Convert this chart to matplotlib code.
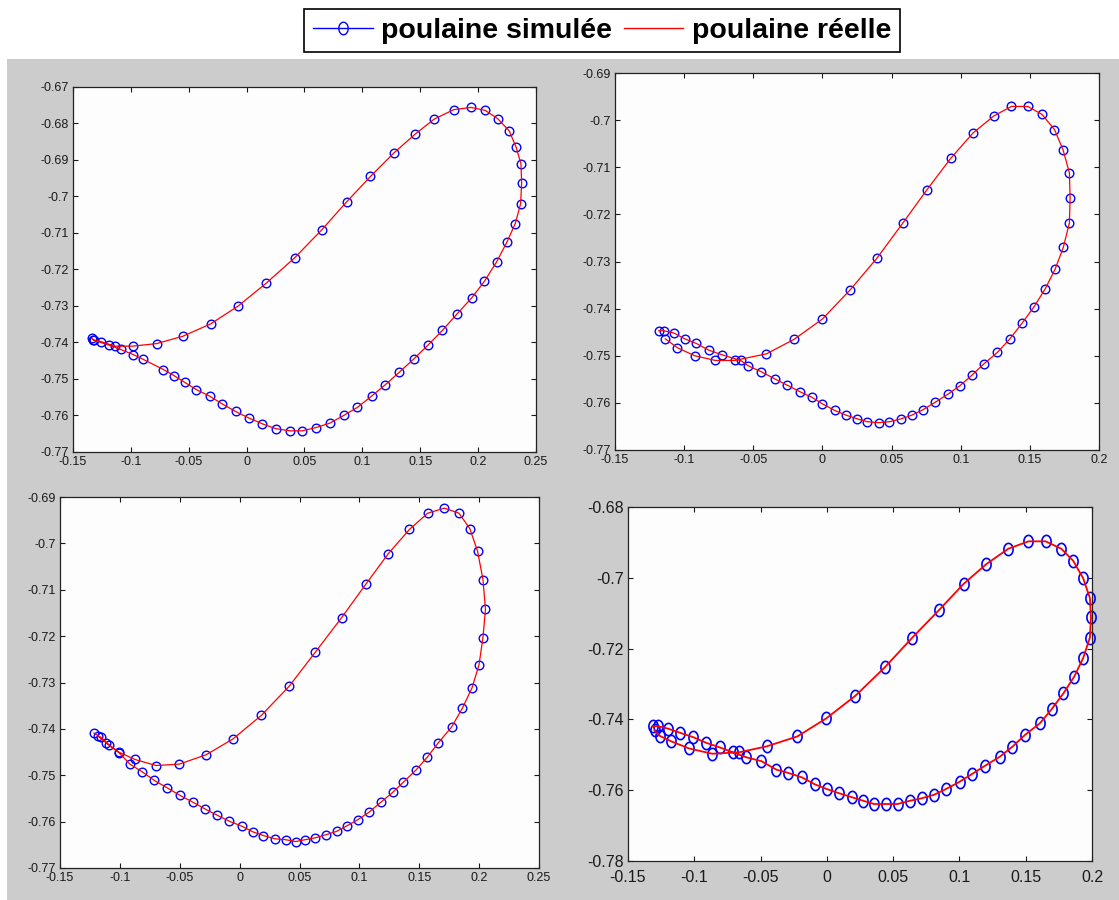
import numpy as np
import matplotlib
matplotlib.use("Agg")
import matplotlib.pyplot as plt
from matplotlib.lines import Line2D
from matplotlib.patches import Rectangle
from matplotlib.path import Path
from matplotlib.ticker import FuncFormatter

# poulaine points (x, y), going round the loop from the left tip
x1 = [-0.1336, -0.1320, -0.1188, -0.1089, -0.0980, -0.0894, -0.0719, -0.0626, -0.0536, -0.0434,
      -0.0320, -0.0212, -0.0095, 0.0020, 0.0137, 0.0251, 0.0375, 0.0480, 0.0600, 0.0718,
      0.0838, 0.0956, 0.1079, 0.1197, 0.1317, 0.1444, 0.1564, 0.1691, 0.1814, 0.1944,
      0.2055, 0.2160, 0.2247, 0.2321, 0.2367, 0.2376, 0.2370, 0.2327, 0.2268, 0.2170,
      0.2061, 0.1938, 0.1790, 0.1620, 0.1456, 0.1271, 0.1070, 0.0863, 0.0647, 0.0415,
      0.0171, -0.0073, -0.0311, -0.0552, -0.0778, -0.0985, -0.1139, -0.1254, -0.1330]
y1 = [-0.7389, -0.7394, -0.7407, -0.7419, -0.7433, -0.7446, -0.7474, -0.7491, -0.7509, -0.7529,
      -0.7547, -0.7568, -0.7589, -0.7607, -0.7623, -0.7636, -0.7642, -0.7642, -0.7633, -0.7621,
      -0.7600, -0.7578, -0.7547, -0.7516, -0.7482, -0.7445, -0.7408, -0.7367, -0.7323, -0.7278,
      -0.7232, -0.7179, -0.7126, -0.7074, -0.7020, -0.6963, -0.6910, -0.6864, -0.6820, -0.6787,
      -0.6764, -0.6756, -0.6762, -0.6788, -0.6829, -0.6881, -0.6945, -0.7015, -0.7092, -0.7168,
      -0.7237, -0.7300, -0.7349, -0.7383, -0.7403, -0.7410, -0.7410, -0.7398, -0.7392]

x2 = [-0.1184, -0.1146, -0.1073, -0.0996, -0.0911, -0.0823, -0.0726, -0.0591, -0.0538, -0.0442,
      -0.0345, -0.0258, -0.0165, -0.0077, 0.0000, 0.0088, 0.0170, 0.0253, 0.0325, 0.0407,
      0.0485, 0.0567, 0.0647, 0.0724, 0.0814, 0.0905, 0.0992, 0.1082, 0.1168, 0.1265,
      0.1356, 0.1443, 0.1528, 0.1611, 0.1683, 0.1742, 0.1786, 0.1791, 0.1786, 0.1740,
      0.1678, 0.1588, 0.1485, 0.1366, 0.1240, 0.1090, 0.0928, 0.0755, 0.0580, 0.0394,
      0.0201, 0.0000, -0.0204, -0.0405, -0.0635, -0.0774, -0.0924, -0.1049, -0.1136]
y2 = [-0.7447, -0.7447, -0.7452, -0.7464, -0.7474, -0.7488, -0.7498, -0.7510, -0.7521, -0.7534,
      -0.7549, -0.7562, -0.7576, -0.7588, -0.7602, -0.7616, -0.7626, -0.7634, -0.7640, -0.7642,
      -0.7640, -0.7634, -0.7626, -0.7615, -0.7599, -0.7582, -0.7564, -0.7541, -0.7517, -0.7493,
      -0.7464, -0.7431, -0.7397, -0.7358, -0.7316, -0.7270, -0.7218, -0.7166, -0.7112, -0.7063,
      -0.7020, -0.6988, -0.6971, -0.6971, -0.6991, -0.7027, -0.7081, -0.7148, -0.7219, -0.7293,
      -0.7360, -0.7422, -0.7465, -0.7496, -0.7510, -0.7510, -0.7500, -0.7483, -0.7464]

x3 = [-0.1217, -0.1160, -0.1089, -0.1005, -0.0916, -0.0817, -0.0713, -0.0606, -0.0501, -0.0391,
      -0.0287, -0.0189, -0.0087, 0.0020, 0.0110, 0.0199, 0.0294, 0.0384, 0.0467, 0.0548,
      0.0631, 0.0724, 0.0810, 0.0896, 0.0986, 0.1084, 0.1180, 0.1278, 0.1367, 0.1472,
      0.1567, 0.1659, 0.1770, 0.1859, 0.1940, 0.1999, 0.2032, 0.2053, 0.2032, 0.1987,
      0.1922, 0.1832, 0.1710, 0.1570, 0.1418, 0.1242, 0.1054, 0.0852, 0.0631, 0.0414,
      0.0181, -0.0057, -0.0281, -0.0504, -0.0698, -0.0874, -0.1010, -0.1115, -0.1181]
y3 = [-0.7409, -0.7418, -0.7435, -0.7452, -0.7476, -0.7492, -0.7511, -0.7527, -0.7543, -0.7558,
      -0.7573, -0.7586, -0.7599, -0.7610, -0.7622, -0.7630, -0.7637, -0.7639, -0.7643, -0.7639,
      -0.7635, -0.7628, -0.7621, -0.7609, -0.7596, -0.7579, -0.7558, -0.7537, -0.7515, -0.7489,
      -0.7461, -0.7430, -0.7396, -0.7356, -0.7312, -0.7262, -0.7203, -0.7142, -0.7078, -0.7017,
      -0.6968, -0.6935, -0.6924, -0.6935, -0.6970, -0.7022, -0.7088, -0.7160, -0.7235, -0.7308,
      -0.7371, -0.7422, -0.7456, -0.7476, -0.7479, -0.7466, -0.7450, -0.7430, -0.7416]

x4 = [-0.1312, -0.1274, -0.1199, -0.1106, -0.1010, -0.0911, -0.0809, -0.0709, -0.0608, -0.0494,
      -0.0381, -0.0293, -0.0187, -0.0093, 0.0001, 0.0095, 0.0190, 0.0276, 0.0356, 0.0445,
      0.0534, 0.0625, 0.0714, 0.0808, 0.0897, 0.1002, 0.1096, 0.1193, 0.1306, 0.1400,
      0.1494, 0.1607, 0.1696, 0.1785, 0.1866, 0.1933, 0.1984, 0.1992, 0.1984, 0.1933,
      0.1858, 0.1769, 0.1650, 0.1521, 0.1368, 0.1204, 0.1032, 0.0849, 0.0642, 0.0437,
      0.0216, -0.0004, -0.0222, -0.0452, -0.0663, -0.0865, -0.1040, -0.1174, -0.1258, -0.1300]
y4 = [-0.7419, -0.7419, -0.7426, -0.7438, -0.7450, -0.7466, -0.7479, -0.7493, -0.7507, -0.7518,
      -0.7542, -0.7551, -0.7564, -0.7583, -0.7597, -0.7609, -0.7620, -0.7630, -0.7639, -0.7639,
      -0.7639, -0.7630, -0.7623, -0.7613, -0.7597, -0.7576, -0.7554, -0.7531, -0.7505, -0.7477,
      -0.7444, -0.7411, -0.7371, -0.7326, -0.7279, -0.7227, -0.7169, -0.7112, -0.7057, -0.7001,
      -0.6952, -0.6918, -0.6897, -0.6897, -0.6918, -0.6961, -0.7017, -0.7090, -0.7170, -0.7253,
      -0.7333, -0.7397, -0.7448, -0.7476, -0.7493, -0.7497, -0.7482, -0.7462, -0.7447, -0.7431]

xlims = [(-0.15, 0.25), (-0.15, 0.2), (-0.15, 0.25), (-0.15, 0.2)]
ylims = [(-0.77, -0.67), (-0.77, -0.69), (-0.77, -0.69), (-0.78, -0.68)]
ysteps = [0.01, 0.01, 0.01, 0.02]

legend_labels = ["poulaine simulée", "poulaine réelle"]

plt.rcParams["font.family"] = ["Liberation Sans", "DejaVu Sans"]

W, H = 1119, 900
fig = plt.figure(figsize=(W / 100, H / 100), dpi=100)
fig.patch.set_facecolor("white")

# gray matlab-like background under the four panels
fig.patches.append(Rectangle((7 / W, 0), 1, (H - 59) / H, transform=fig.transFigure,
                             facecolor="#cccccc", edgecolor="none", zorder=-10))

# axes boxes in pixels: left, top, right, bottom
boxes = [(73, 87, 536, 452), (615, 73, 1099, 450), (60, 497, 539, 868), (628, 507, 1092, 861)]

# slightly squashed circle for the last panel (screenshot was stretched)
t = np.linspace(0, 2 * np.pi, 60)
ellipse = Path(np.column_stack([0.75 * np.cos(t), np.sin(t)]), closed=True)

fmt = FuncFormatter(lambda v, p: "%g" % (round(v, 4) + 0.0))

data = [(x1, y1), (x2, y2), (x3, y3), (x4, y4)]
for i, (xs, ys) in enumerate(data):
    l, tp, r, b = boxes[i]
    ax = fig.add_axes([l / W, 1 - b / H, (r - l) / W, (b - tp) / H])
    ax.set_facecolor("#fdfdfd")
    big = i == 3
    ax.plot(xs, ys, color="red", lw=1.3 if big else 0.9, zorder=3)
    ax.plot(xs, ys, ls="none", marker=ellipse if big else "o", ms=8.8 if big else 6.2,
            mfc="none", mec="blue", mew=1.2 if big else 1.0, zorder=2, clip_on=False)
    ax.set_xlim(*xlims[i])
    ax.set_ylim(*ylims[i])
    ax.set_xticks(np.round(np.arange(xlims[i][0], xlims[i][1] + 1e-6, 0.05), 2))
    ax.set_yticks(np.round(np.arange(ylims[i][0], ylims[i][1] + 1e-6, ysteps[i]), 2))
    ax.xaxis.set_major_formatter(fmt)
    ax.yaxis.set_major_formatter(fmt)
    ax.tick_params(direction="in", top=True, right=True, length=3.8, width=0.8,
                   labelsize=11.5 if big else 9, colors="#1a1a1a", pad=3)
    if big:
        ax.tick_params(axis="x", pad=6.5)
    for s in ax.spines.values():
        s.set_color("#222222")
        s.set_linewidth(0.9)

handles = [Line2D([], [], color="blue", marker=ellipse, mfc="none", mec="blue", ms=9, lw=1),
           Line2D([], [], color="red", lw=1)]
leg = fig.legend(handles, legend_labels, loc="center", bbox_to_anchor=(602 / W, 1 - 30.5 / H),
                 ncol=2, prop={"weight": "bold", "size": 20.5}, frameon=True, fancybox=False,
                 framealpha=1, edgecolor="black", handlelength=2.1, handletextpad=0.3,
                 columnspacing=0.4, borderpad=0.3, borderaxespad=0)
leg.get_frame().set_linewidth(1.2)

fig.savefig("out.png", dpi=100)
